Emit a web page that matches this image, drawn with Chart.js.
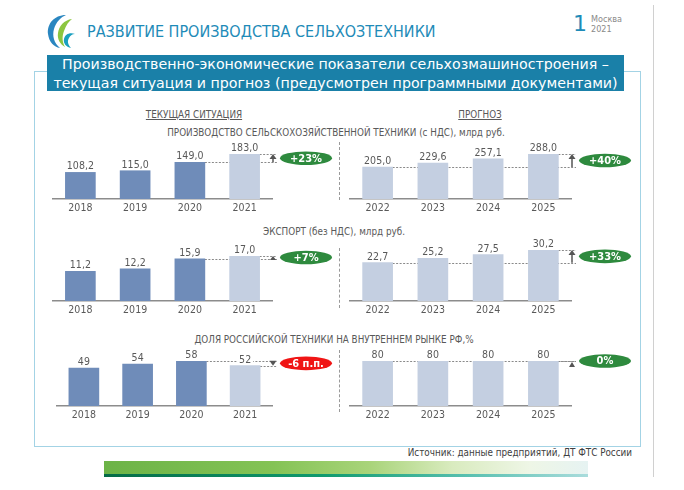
<!DOCTYPE html>
<html><head><meta charset="utf-8">
<script src="https://cdn.jsdelivr.net/npm/chart.js@4"></script>
<style>
html,body{margin:0;padding:0;background:#fff;}
#page{position:relative;width:684px;height:490px;overflow:hidden;font-family:'DejaVu Sans',sans-serif;}
.abs{position:absolute;white-space:nowrap;}
canvas{position:absolute;}
.sub{font-family:'DejaVu Sans Condensed','DejaVu Sans',sans-serif;font-size:9.8px;color:#595959;text-align:center;}
.sep{position:absolute;left:339px;width:0;border-left:1px dashed #9a9a9a;}
</style></head><body><div id="page">
<svg class="abs" style="left:44px;top:12px" width="34" height="38" viewBox="0 0 34 38">
  <path d="M22 3 C10 3 3 12 4 22 C5 30 10 35 16 36 C10 31 8 24 10 17 C12 10 17 5 22 3 Z" fill="#2a86c0"/>
  <path d="M28 7 C20 8 15 14 14 21 C13 27 16 32 21 35 C18 30 18 24 20 19 C22 13 25 9 28 7 Z" fill="#8cc63f"/>
  <path d="M31 22 C26 20 21 22 20 27 C19 31 22 35 27 36 C24 33 23 29 25 26 C26 24 28 22 31 22 Z" fill="#1aa0c0"/>
</svg>
<div class="abs" style="left:87px;top:23px;font-size:16px;line-height:18px;color:#1e8bb8;font-family:'DejaVu Sans Condensed','DejaVu Sans',sans-serif;">РАЗВИТИЕ ПРОИЗВОДСТВА СЕЛЬХОЗТЕХНИКИ</div>
<div class="abs" style="left:573px;top:13px;font-size:22px;line-height:22px;color:#1e8bb8;">1</div>
<div class="abs" style="left:591px;top:14px;font-size:9px;line-height:10px;color:#8a8a8a;font-family:'DejaVu Sans Condensed','DejaVu Sans',sans-serif;">Москва<br>2021</div>
<div class="abs" style="left:653px;top:5px;width:1px;height:472px;background:#d0d0d0;"></div>
<div class="abs" style="left:34px;top:71px;width:607px;height:376px;box-sizing:border-box;border:1.5px solid #a3d3e5;"></div>
<div class="abs" style="left:47px;top:55px;width:577px;height:36px;background:#1a80a8;color:#fff;font-size:14.2px;line-height:18.5px;text-align:center;">Производственно-экономические показатели сельхозмашиностроения –<br>текущая ситуация и прогноз (предусмотрен программными документами)</div>
<div class="abs sub" style="left:94px;top:109px;width:200px;text-decoration:underline;">ТЕКУЩАЯ СИТУАЦИЯ</div>
<div class="abs sub" style="left:380px;top:109px;width:200px;text-decoration:underline;">ПРОГНОЗ</div>
<div class="abs sub" style="left:86px;top:127px;width:500px;">ПРОИЗВОДСТВО СЕЛЬСКОХОЗЯЙСТВЕННОЙ ТЕХНИКИ (с НДС), млрд руб.</div>
<div class="abs sub" style="left:84px;top:226px;width:500px;">ЭКСПОРТ (без НДС), млрд руб.</div>
<div class="abs sub" style="left:84px;top:334px;width:500px;">ДОЛЯ РОССИЙСКОЙ ТЕХНИКИ НА ВНУТРЕННЕМ РЫНКЕ РФ,%</div>
<div class="sep" style="top:142px;height:58px;"></div>
<div class="sep" style="top:248px;height:60px;"></div>
<div class="sep" style="top:350px;height:62px;"></div>
<div class="abs sub" style="right:52px;top:447px;color:#404040;text-align:right;">Источник: данные предприятий, ДТ ФТС России</div>
<div class="abs" style="left:104px;top:461px;width:484px;height:13px;background:linear-gradient(to right,#6cb347 0%,#84c355 35%,#a9d47a 55%,#d9ebbf 72%,#eef6e6 88%,#e6f3f2 100%);"></div>
<div class="abs" style="left:104px;top:474px;width:484px;height:3px;background:linear-gradient(to right,#056b47 0%,#0f9a6e 45%,#58c0b0 75%,#a9dcdc 100%);"></div>
</div>
<script>
const FONT = "'DejaVu Sans Condensed','DejaVu Sans',sans-serif";
const yearsCurrent = ['2018', '2019', '2020', '2021'];
const yearsForecast = ['2022', '2023', '2024', '2025'];
const productionCurrent = [108.2, 115.0, 149.0, 183.0];
const productionForecast = [205.0, 229.6, 257.1, 288.0];
const exportCurrent = [11.2, 12.2, 15.9, 17.0];
const exportForecast = [22.7, 25.2, 27.5, 30.2];
const shareCurrent = [49, 54, 58, 52];
const shareForecast = [80, 80, 80, 80];
const changeBadges = ['+23%', '+40%', '+7%', '+33%', '-6 п.п.', '0%'];

const DARK = '#6f8cb9', LIGHT = '#c4cfe1', GREEN = '#2e8a3e', RED = '#f01515';
const currentColors = [DARK, DARK, DARK, LIGHT];
const forecastColors = [LIGHT, LIGHT, LIGHT, LIGHT];

function fmt(v, d){ return v.toFixed(d).replace('.', ','); }

const deco = {
  id: 'deco',
  beforeDatasetsDraw(chart, args, o){
    const ctx = chart.ctx, meta = chart.getDatasetMeta(0), a = chart.chartArea;
    const bf = meta.data[o.from], bt = meta.data[o.to];
    const ax = a.right + 1;
    ctx.save();
    ctx.strokeStyle = '#8a8a8a'; ctx.lineWidth = 1; ctx.setLineDash([2, 1.5]);
    [bf, bt].forEach(b => {
      const y = Math.round(b.y) + 0.5;
      ctx.beginPath(); ctx.moveTo(b.x + b.width / 2, y); ctx.lineTo(ax + 4, y); ctx.stroke();
    });
    ctx.restore();
  },
  afterDatasetsDraw(chart, args, o){
    const ctx = chart.ctx, meta = chart.getDatasetMeta(0), a = chart.chartArea;
    const vals = chart.data.datasets[0].data;
    ctx.save();
    ctx.font = '10.5px ' + FONT; ctx.textAlign = 'center'; ctx.textBaseline = 'alphabetic';
    meta.data.forEach((b, i) => {
      const t = fmt(vals[i], o.decimals);
      const w = ctx.measureText(t).width;
      ctx.fillStyle = '#fff'; ctx.fillRect(b.x - w / 2 - 2, b.y - 12, w + 4, 10);
      ctx.fillStyle = '#595959'; ctx.fillText(t, b.x, b.y - 3);
    });
    const bf = meta.data[o.from], bt = meta.data[o.to];
    const yF = bf.y, yT = bt.y, ax = a.right + 1;
    ctx.fillStyle = '#555'; ctx.strokeStyle = '#555'; ctx.lineWidth = 1.5;
    let cy;
    if (Math.abs(yF - yT) > 4) {
      const dir = yT < yF ? -1 : 1;
      ctx.beginPath(); ctx.moveTo(ax, yF); ctx.lineTo(ax, yT - dir * 4); ctx.stroke();
      ctx.beginPath(); ctx.moveTo(ax, yT); ctx.lineTo(ax - 3.5, yT - dir * 5); ctx.lineTo(ax + 3.5, yT - dir * 5); ctx.closePath(); ctx.fill();
      cy = (yF + yT) / 2;
    } else if (Math.abs(yF - yT) > 1) {
      const top = Math.min(yF, yT), bot = Math.max(yF, yT);
      const dir = yT < yF ? -1 : 1;
      const tip = dir < 0 ? top : bot, base = dir < 0 ? bot + 1 : top - 1;
      ctx.beginPath(); ctx.moveTo(ax, tip); ctx.lineTo(ax - 3, base); ctx.lineTo(ax + 3, base); ctx.closePath(); ctx.fill();
      cy = (yF + yT) / 2;
    } else {
      ctx.beginPath(); ctx.moveTo(ax, yT + 1); ctx.lineTo(ax - 3, yT + 6); ctx.lineTo(ax + 3, yT + 6); ctx.closePath(); ctx.fill();
      cy = yT;
    }
    const cx = a.right + 34;
    ctx.fillStyle = o.badgeColor;
    ctx.beginPath(); ctx.ellipse(cx, cy, 26, 6.8, 0, 0, Math.PI * 2); ctx.fill();
    ctx.fillStyle = '#fff'; ctx.font = 'bold 11px ' + FONT; ctx.textBaseline = 'middle';
    ctx.fillText(o.badge, cx, cy + 0.5);
    ctx.restore();
  }
};

const panels = [
  {labels: yearsCurrent, values: productionCurrent, colors: currentColors, left: 40, padLeft: 13, padRight: 68, baseline: 199, areaH: 45, from: 2, to: 3, badge: changeBadges[0], badgeColor: GREEN, decimals: 1},
  {labels: yearsForecast, values: productionForecast, colors: forecastColors, left: 342, padLeft: 8, padRight: 71, baseline: 199, areaH: 45, from: 0, to: 3, badge: changeBadges[1], badgeColor: GREEN, decimals: 1},
  {labels: yearsCurrent, values: exportCurrent, colors: currentColors, left: 40, padLeft: 13, padRight: 68, baseline: 301, areaH: 45, from: 2, to: 3, badge: changeBadges[2], badgeColor: GREEN, decimals: 1},
  {labels: yearsForecast, values: exportForecast, colors: forecastColors, left: 342, padLeft: 8, padRight: 71, baseline: 301, areaH: 51, from: 0, to: 3, badge: changeBadges[3], badgeColor: GREEN, decimals: 1},
  {labels: yearsCurrent, values: shareCurrent, colors: currentColors, left: 40, padLeft: 17, padRight: 68, baseline: 406, areaH: 45, from: 2, to: 3, badge: changeBadges[4], badgeColor: RED, decimals: 0},
  {labels: yearsForecast, values: shareForecast, colors: forecastColors, left: 342, padLeft: 8, padRight: 71, baseline: 406, areaH: 45, from: 0, to: 3, badge: changeBadges[5], badgeColor: GREEN, decimals: 0}
];

const page = document.getElementById('page');
const PADTOP = 32, XH = 20, W = 300;
panels.forEach(p => {
  const c = document.createElement('canvas');
  const H = PADTOP + p.areaH + XH;
  c.width = W; c.height = H;
  c.style.left = p.left + 'px';
  c.style.top = (p.baseline - p.areaH - PADTOP) + 'px';
  c.style.width = W + 'px'; c.style.height = H + 'px';
  page.appendChild(c);
  new Chart(c.getContext('2d'), {
    type: 'bar',
    data: {labels: p.labels, datasets: [{data: p.values, backgroundColor: p.colors, barThickness: 30, borderWidth: 0}]},
    options: {
      responsive: false, animation: false, devicePixelRatio: 1,
      layout: {padding: {left: p.padLeft, right: p.padRight, top: PADTOP, bottom: 0}},
      plugins: {legend: {display: false}, tooltip: {enabled: false},
        deco: {from: p.from, to: p.to, badge: p.badge, badgeColor: p.badgeColor, decimals: p.decimals}},
      scales: {
        x: {grid: {display: false, drawTicks: false}, border: {display: true, color: '#8c8c8c', width: 1.5},
            ticks: {color: '#595959', font: {family: FONT, size: 10.5}, padding: 3},
            afterFit: s => { s.height = XH; }},
        y: {display: false, min: 0, max: Math.max(...p.values)}
      }
    },
    plugins: [deco]
  });
});
</script>
</body></html>
